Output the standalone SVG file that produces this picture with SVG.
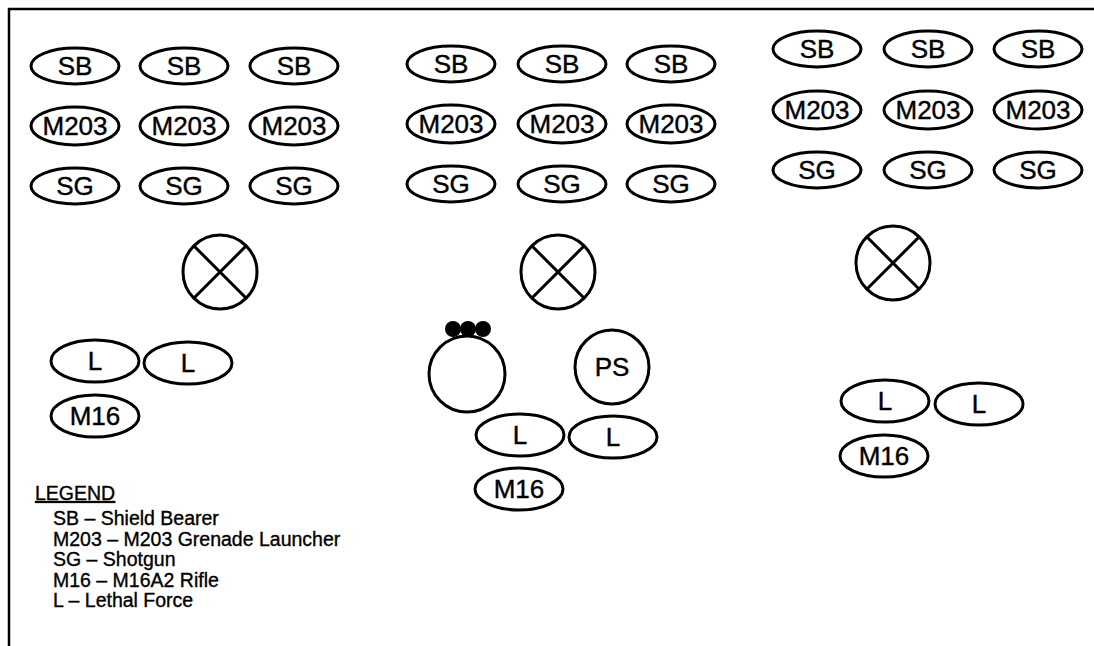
<svg xmlns="http://www.w3.org/2000/svg" width="1094" height="646" viewBox="0 0 1094 646">
<style>
.e{fill:#fff;stroke:#000;stroke-width:3}
.x{fill:none;stroke:#000;stroke-width:3}
.t{font-family:"Liberation Sans",Arial,sans-serif;font-size:26px;fill:#000;stroke:#000;stroke-width:0.4;text-anchor:middle;dominant-baseline:central}
.lg{font-family:"Liberation Sans",Arial,sans-serif;font-size:19.5px;fill:#000;stroke:#000;stroke-width:0.35}
</style>
<rect width="1094" height="646" fill="#fff"/>
<path d="M9,646 V9 H1094" fill="none" stroke="#000" stroke-width="2.5"/>

<g id="g1-sb1"><ellipse class="e" cx="75" cy="66" rx="44" ry="18"/><text class="t" x="75" y="66">SB</text></g>
<g id="g1-sb2"><ellipse class="e" cx="184" cy="66" rx="44" ry="18"/><text class="t" x="184" y="66">SB</text></g>
<g id="g1-sb3"><ellipse class="e" cx="294" cy="66" rx="44" ry="18"/><text class="t" x="294" y="66">SB</text></g>
<g id="g1-m1"><ellipse class="e" cx="75" cy="126" rx="44" ry="19"/><text class="t" x="75" y="126">M203</text></g>
<g id="g1-m2"><ellipse class="e" cx="184" cy="126" rx="44" ry="19"/><text class="t" x="184" y="126">M203</text></g>
<g id="g1-m3"><ellipse class="e" cx="294" cy="126" rx="44" ry="19"/><text class="t" x="294" y="126">M203</text></g>
<g id="g1-sg1"><ellipse class="e" cx="75" cy="186" rx="44" ry="18"/><text class="t" x="75" y="186">SG</text></g>
<g id="g1-sg2"><ellipse class="e" cx="184" cy="186" rx="44" ry="18"/><text class="t" x="184" y="186">SG</text></g>
<g id="g1-sg3"><ellipse class="e" cx="294" cy="186" rx="44" ry="18"/><text class="t" x="294" y="186">SG</text></g>
<g id="g1-ldr"><circle class="e" cx="220" cy="272" r="37"/><path class="x" d="M194,246 L246,298 M246,246 L194,298"/></g>
<g id="g1-l1"><ellipse class="e" cx="95" cy="361" rx="44" ry="21"/><text class="t" x="95" y="361">L</text></g>
<g id="g1-l2"><ellipse class="e" cx="188" cy="363" rx="44" ry="21"/><text class="t" x="188" y="363">L</text></g>
<g id="g1-m16"><ellipse class="e" cx="95" cy="416" rx="44" ry="21"/><text class="t" x="95" y="416">M16</text></g>

<g id="g2-sb1"><ellipse class="e" cx="451" cy="64" rx="44" ry="18"/><text class="t" x="451" y="64">SB</text></g>
<g id="g2-sb2"><ellipse class="e" cx="562" cy="64" rx="44" ry="18"/><text class="t" x="562" y="64">SB</text></g>
<g id="g2-sb3"><ellipse class="e" cx="671" cy="64" rx="44" ry="18"/><text class="t" x="671" y="64">SB</text></g>
<g id="g2-m1"><ellipse class="e" cx="451" cy="124" rx="44" ry="19"/><text class="t" x="451" y="124">M203</text></g>
<g id="g2-m2"><ellipse class="e" cx="562" cy="124" rx="44" ry="19"/><text class="t" x="562" y="124">M203</text></g>
<g id="g2-m3"><ellipse class="e" cx="671" cy="124" rx="44" ry="19"/><text class="t" x="671" y="124">M203</text></g>
<g id="g2-sg1"><ellipse class="e" cx="451" cy="184" rx="44" ry="18"/><text class="t" x="451" y="184">SG</text></g>
<g id="g2-sg2"><ellipse class="e" cx="562" cy="184" rx="44" ry="18"/><text class="t" x="562" y="184">SG</text></g>
<g id="g2-sg3"><ellipse class="e" cx="671" cy="184" rx="44" ry="18"/><text class="t" x="671" y="184">SG</text></g>
<g id="g2-ldr"><circle class="e" cx="558" cy="272" r="37"/><path class="x" d="M532,246 L584,298 M584,246 L532,298"/></g>
<g id="g2-cmd"><circle class="e" cx="467" cy="374" r="38"/><circle cx="453" cy="329" r="8"/><circle cx="468" cy="329" r="8"/><circle cx="483" cy="329" r="8"/></g>
<g id="g2-ps"><circle class="e" cx="612" cy="367" r="37"/><text class="t" x="612" y="367">PS</text></g>
<g id="g2-l1"><ellipse class="e" cx="520" cy="435" rx="44" ry="21"/><text class="t" x="520" y="435">L</text></g>
<g id="g2-l2"><ellipse class="e" cx="613" cy="437" rx="44" ry="21"/><text class="t" x="613" y="437">L</text></g>
<g id="g2-m16"><ellipse class="e" cx="519" cy="489" rx="44" ry="21"/><text class="t" x="519" y="489">M16</text></g>

<g id="g3-sb1"><ellipse class="e" cx="817" cy="49" rx="44" ry="18"/><text class="t" x="817" y="49">SB</text></g>
<g id="g3-sb2"><ellipse class="e" cx="928" cy="49" rx="44" ry="18"/><text class="t" x="928" y="49">SB</text></g>
<g id="g3-sb3"><ellipse class="e" cx="1038" cy="49" rx="44" ry="18"/><text class="t" x="1038" y="49">SB</text></g>
<g id="g3-m1"><ellipse class="e" cx="817" cy="110" rx="44" ry="19"/><text class="t" x="817" y="110">M203</text></g>
<g id="g3-m2"><ellipse class="e" cx="928" cy="110" rx="44" ry="19"/><text class="t" x="928" y="110">M203</text></g>
<g id="g3-m3"><ellipse class="e" cx="1038" cy="110" rx="44" ry="19"/><text class="t" x="1038" y="110">M203</text></g>
<g id="g3-sg1"><ellipse class="e" cx="817" cy="170" rx="44" ry="18"/><text class="t" x="817" y="170">SG</text></g>
<g id="g3-sg2"><ellipse class="e" cx="928" cy="170" rx="44" ry="18"/><text class="t" x="928" y="170">SG</text></g>
<g id="g3-sg3"><ellipse class="e" cx="1038" cy="170" rx="44" ry="18"/><text class="t" x="1038" y="170">SG</text></g>
<g id="g3-ldr"><circle class="e" cx="893" cy="263" r="37"/><path class="x" d="M867,237 L919,289 M919,237 L867,289"/></g>
<g id="g3-l1"><ellipse class="e" cx="885" cy="401" rx="44" ry="21"/><text class="t" x="885" y="401">L</text></g>
<g id="g3-l2"><ellipse class="e" cx="979" cy="404" rx="44" ry="21"/><text class="t" x="979" y="404">L</text></g>
<g id="g3-m16"><ellipse class="e" cx="884" cy="456" rx="44" ry="21"/><text class="t" x="884" y="456">M16</text></g>

<g id="legend">
<text class="lg" x="35" y="500" text-decoration="underline">LEGEND</text>
<text class="lg" x="53" y="525">SB – Shield Bearer</text>
<text class="lg" x="53" y="545.5">M203 – M203 Grenade Launcher</text>
<text class="lg" x="53" y="566">SG – Shotgun</text>
<text class="lg" x="53" y="586.5">M16 – M16A2 Rifle</text>
<text class="lg" x="53" y="607">L – Lethal Force</text>
</g>
</svg>
